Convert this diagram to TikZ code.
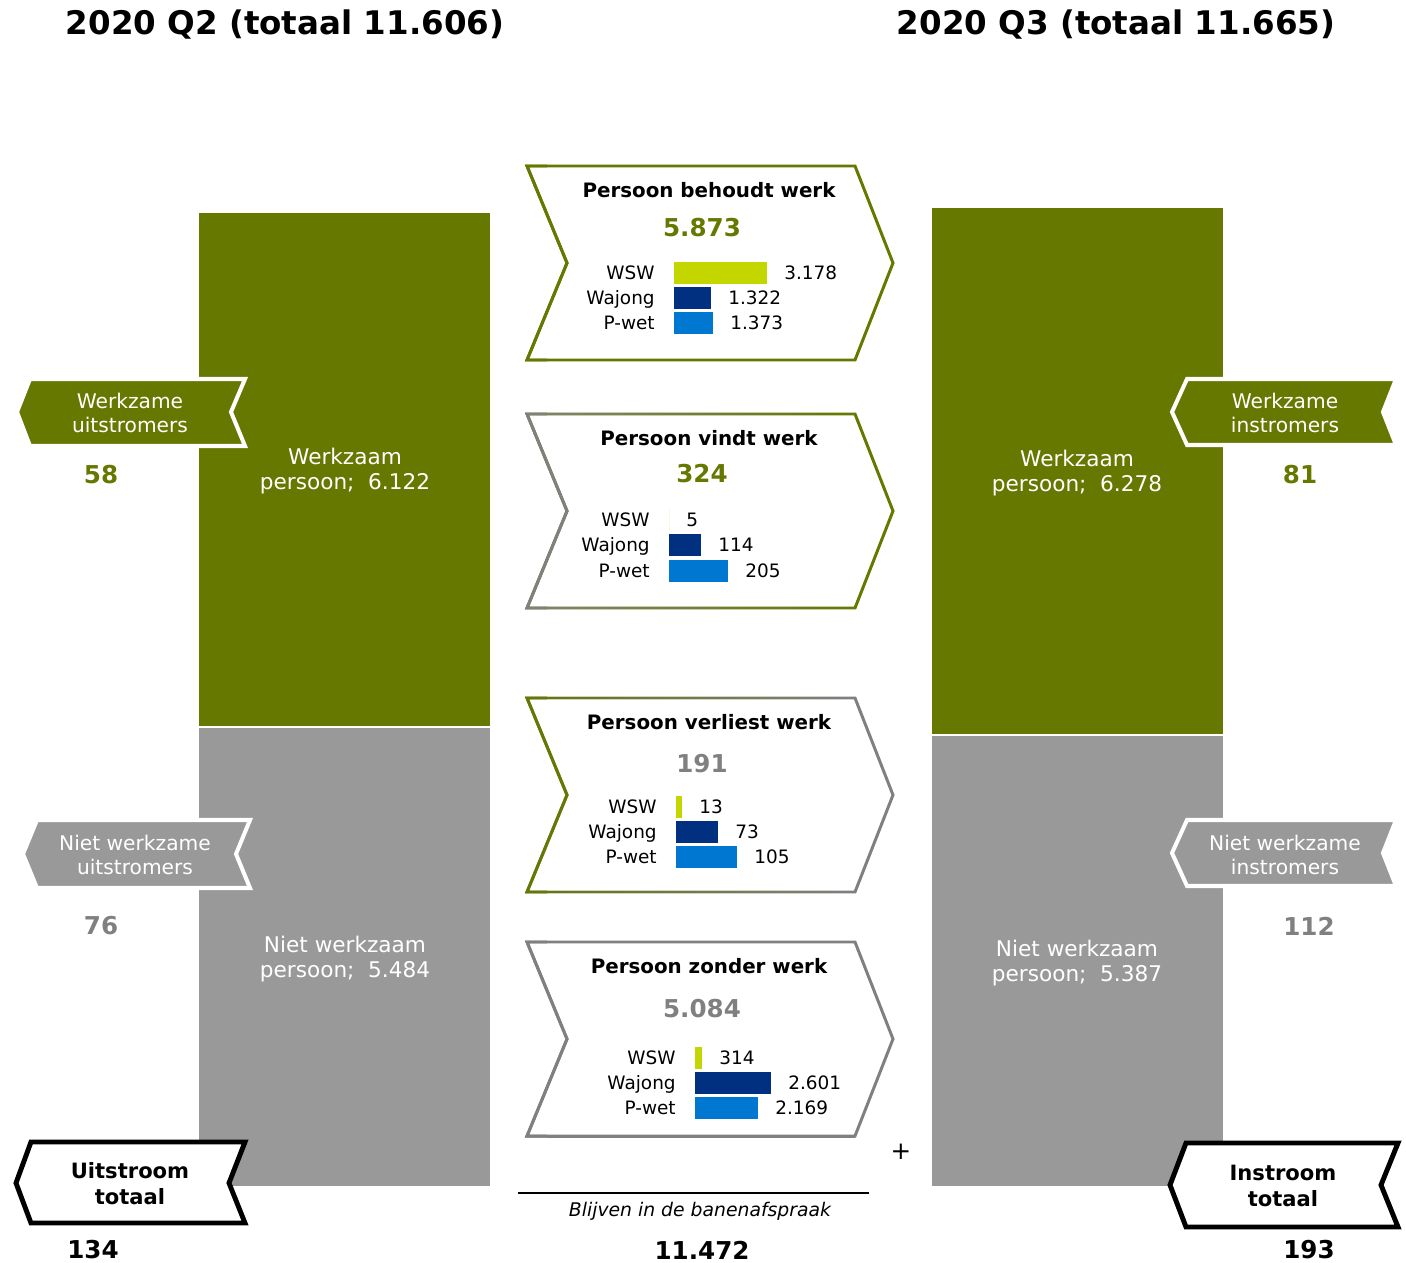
\documentclass[tikz,border=0pt]{standalone}
\usepackage{fontspec}
\setmainfont{DejaVu Sans}
\usepackage{tikz}
\definecolor{bjgreen}{HTML}{667800}
\definecolor{bjlime}{HTML}{C4D600}
\definecolor{bjnavy}{HTML}{00307F}
\definecolor{bjblue}{HTML}{0078D2}
\definecolor{bjbar}{HTML}{999999}
\definecolor{bjgray}{HTML}{808080}

\begin{document}
\begin{tikzpicture}[x=0.02cm,y=-0.02cm,
	hd/.style={font=\bfseries\fontsize{18.5}{22}\selectfont},
	barlbl/.style={text=white,align=center,font=\fontsize{12.3}{14.7}\selectfont},
	taglbl/.style={align=center,font=\fontsize{11.5}{14}\selectfont},
	big/.style={font=\bfseries\fontsize{14}{16}\selectfont},
	chevhead/.style={font=\bfseries\fontsize{11.3}{13}\selectfont},
	rowlbl/.style={inner sep=0pt,font=\fontsize{10.5}{12}\selectfont},
	chev/.style={line width=1.7pt,line join=miter},
	tagfill/.style={line width=2.3pt,draw=white,line join=miter},
	tagtot/.style={line width=2.8pt,draw=black,fill=white,line join=miter}]
	\useasboundingbox (0,0) rectangle (1406,1263);
	
	% titels
	\node[hd] (q2) at (285,25) {2020 Q2 (totaal 11.606)};
	\node[hd] (q3) at (1116,25) {2020 Q3 (totaal 11.665)};
	
	% kolommen
	\fill[bjgreen] (199,213) rectangle (490,726);
	\fill[bjbar] (199,728) rectangle (490,1186);
	\fill[bjgreen] (932,208) rectangle (1223,734);
	\fill[bjbar] (932,736) rectangle (1223,1186);
	\node[barlbl] (werk-q2) at (345,471) {Werkzaam\\persoon;\ \ 6.122};
	\node[barlbl] (niet-q2) at (345,959) {Niet werkzaam\\persoon;\ \ 5.484};
	\node[barlbl] (werk-q3) at (1077,473) {Werkzaam\\persoon;\ \ 6.278};
	\node[barlbl] (niet-q3) at (1077,963) {Niet werkzaam\\persoon;\ \ 5.387};
	
	% uitstromers / instromers
	\filldraw[tagfill,fill=bjgreen] (17,412) -- (30,379) -- (245,379) -- (231,412) -- (245,446) -- (30,446) -- cycle;
	\filldraw[tagfill,fill=bjbar] (23,854) -- (37,820) -- (250,820) -- (236,854) -- (250,888) -- (37,888) -- cycle;
	\filldraw[tagfill,fill=bjgreen] (1172,412) -- (1187,379) -- (1396,379) -- (1383,412) -- (1396,445) -- (1187,445) -- cycle;
	\filldraw[tagfill,fill=bjbar] (1172,853) -- (1187,820) -- (1396,820) -- (1383,853) -- (1396,886) -- (1187,886) -- cycle;
	\node[taglbl,text=white] (wu) at (130,413) {Werkzame\\uitstromers};
	\node[taglbl,text=white] (nu) at (135,855) {Niet werkzame\\uitstromers};
	\node[taglbl,text=white] (wi) at (1285,413) {Werkzame\\instromers};
	\node[taglbl,text=white] (ni) at (1285,855) {Niet werkzame\\instromers};
	\node[big,text=bjgreen] (wu-val) at (101,475) {58};
	\node[big,text=bjgray] (nu-val) at (101,926) {76};
	\node[big,text=bjgreen] (wi-val) at (1300,475) {81};
	\node[big,text=bjgray] (ni-val) at (1309,926) {112};
	
	% totalen
	\filldraw[tagtot] (16,1183) -- (31,1142) -- (245,1142) -- (229,1183) -- (245,1223) -- (31,1223) -- cycle;
	\filldraw[tagtot] (1170,1185) -- (1186,1143) -- (1398,1143) -- (1381,1185) -- (1398,1227) -- (1186,1227) -- cycle;
	\node[taglbl,font=\bfseries\fontsize{12}{14.7}\selectfont] (uit) at (130,1184) {Uitstroom\\totaal};
	\node[taglbl,font=\bfseries\fontsize{12}{14.7}\selectfont] (in) at (1283,1186) {Instroom\\totaal};
	\node[big] (uit-val) at (93,1250) {134};
	\node[big] (in-val) at (1309,1250) {193};
	
	% pijlen in het midden
	\foreach \n/\yt/\ca/\cb in {behoudt/166/bjgreen/bjgreen, vindt/414/bjgray/bjgreen,
		verliest/698/bjgreen/bjgray, zonder/942/bjgray/bjgray}{
		\pgfmathsetmacro\yb{\yt+194}
		\pgfmathsetmacro\ym{\yt+97}
		\draw[chev,draw=\cb] (527,\yt) -- (855,\yt) -- (893,\ym) -- (855,\yb) -- (527,\yb) -- (567,\ym) -- cycle;
		\draw[chev,draw=\ca] (547,\yt) -- (527,\yt) -- (567,\ym) -- (527,\yb) -- (547,\yb);
		\foreach \k in {0,...,15}{
			\pgfmathsetmacro\xa{547+\k*19.25}
			\pgfmathtruncatemacro\p{100-(\k+0.5)*100/16}
			\draw[chev,line cap=butt,draw=\ca!\p!\cb] (\xa,\yt) -- ++(19.5,0) (\xa,\yb) -- ++(19.5,0);
		}
	}
	\foreach \n/\yt/\yn/\head/\tot/\tc in {behoudt/166/228/Persoon behoudt werk/5.873/bjgreen,
		vindt/414/474/Persoon vindt werk/324/bjgreen,
		verliest/698/764/Persoon verliest werk/191/bjgray,
		zonder/942/1009/Persoon zonder werk/5.084/bjgray}{
		\node[chevhead] (\n-head) at (709,\yt+24) {\head};
		\node[big,text=\tc] (\n-tot) at (702,\yn) {\tot};
	}
	\foreach \n/\i/\bx/\y/\lab/\w/\val/\c in {
		behoudt/1/674/273/WSW/93/3.178/bjlime, behoudt/2/674/298/Wajong/37/1.322/bjnavy, behoudt/3/674/323/P-wet/39/1.373/bjblue,
		vindt/1/669/520/WSW/0/5/bjlime, vindt/2/669/545/Wajong/32/114/bjnavy, vindt/3/669/571/P-wet/59/205/bjblue,
		verliest/1/676/807/WSW/6/13/bjlime, verliest/2/676/832/Wajong/42/73/bjnavy, verliest/3/676/857/P-wet/61/105/bjblue,
		zonder/1/695/1058/WSW/7/314/bjlime, zonder/2/695/1083/Wajong/76/2.601/bjnavy, zonder/3/695/1108/P-wet/63/2.169/bjblue}{
		\fill[fill=\c] (\bx,\y-11) rectangle ++(\w,22);
		\node[rowlbl,anchor=mid east] (\n-lab\i) at (\bx-19,\y+2) {\lab};
		\node[rowlbl,anchor=mid west] (\n-val\i) at (\bx+\w+17,\y+2) {\val};
	}
	
	% optelling
	\node[font=\fontsize{14}{16}\selectfont] (plus) at (901,1152) {+};
	\coordinate (som-l) at (518,1193);
	\coordinate (som-r) at (869,1193);
	\draw[line width=1pt] (som-l) -- (som-r);
	\node[font=\itshape\fontsize{10.7}{12}\selectfont] (blijven) at (700,1211) {Blijven in de banenafspraak};
	\node[big] (blijven-val) at (702,1250) {11.472};
\end{tikzpicture}
\end{document}
